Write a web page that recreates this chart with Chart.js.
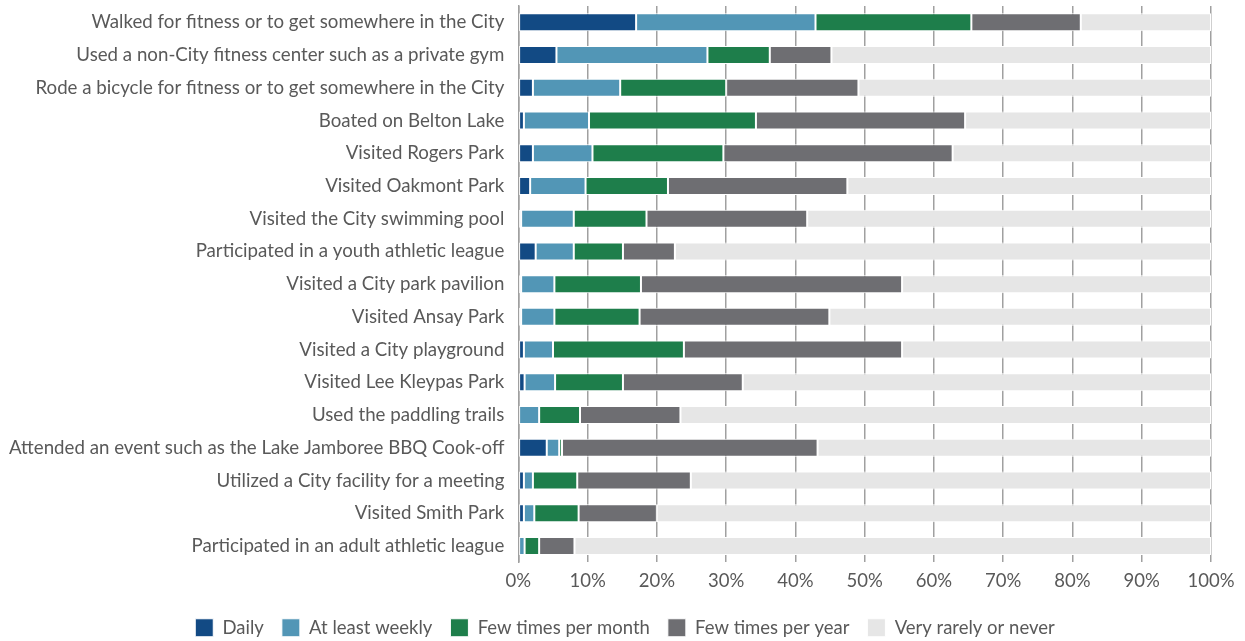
<!DOCTYPE html>
<html>
<head>
<meta charset="utf-8">
<script src="https://cdn.jsdelivr.net/npm/chart.js@4"></script>
<style>
  html, body { margin: 0; padding: 0; background: #fff; }
  #wrap { width: 1245px; height: 641px; }
</style>
</head>
<body>
<div id="wrap"><canvas id="barchart"></canvas></div>
<script>
// activities, top to bottom
const categories = [
  'Walked for fitness or to get somewhere in the City',
  'Used a non-City fitness center such as a private gym',
  'Rode a bicycle for fitness or to get somewhere in the City',
  'Boated on Belton Lake',
  'Visited Rogers Park',
  'Visited Oakmont Park',
  'Visited the City swimming pool',
  'Participated in a youth athletic league',
  'Visited a City park pavilion',
  'Visited Ansay Park',
  'Visited a City playground',
  'Visited Lee Kleypas Park',
  'Used the paddling trails',
  'Attended an event such as the Lake Jamboree BBQ Cook-off',
  'Utilized a City facility for a meeting',
  'Visited Smith Park',
  'Participated in an adult athletic league'
];

// percent of respondents
const daily          = [17.0, 5.5, 2.1, 0.8, 2.1, 1.7, 0.4, 2.5, 0.4, 0.4, 0.8, 0.9, 0.0, 4.1, 0.8, 0.8, 0.0];
const atLeastWeekly  = [25.9, 21.8, 12.6, 9.4, 8.6, 8.0, 7.6, 5.5, 4.8, 4.8, 4.2, 4.4, 3.0, 1.8, 1.3, 1.5, 0.9];
const fewPerMonth    = [22.5, 9.0, 15.3, 24.1, 18.9, 11.9, 10.5, 7.1, 12.5, 12.3, 18.9, 9.8, 5.9, 0.4, 6.4, 6.4, 2.1];
const fewPerYear     = [15.8, 8.9, 19.1, 30.2, 33.1, 25.9, 23.2, 7.5, 37.7, 27.4, 31.5, 17.3, 14.5, 36.9, 16.4, 11.3, 5.1];
const rarelyOrNever  = [18.8, 54.8, 50.9, 35.5, 37.3, 52.5, 58.3, 77.4, 44.6, 55.1, 44.6, 67.6, 76.6, 56.8, 75.1, 80.0, 91.9];

const xTicks = [0, 10, 20, 30, 40, 50, 60, 70, 80, 90, 100];

const FONT = 'Lato';
const TEXT = '#595959';

function ds(label, data, color) {
  return {
    label: label,
    data: data,
    backgroundColor: color,
    borderColor: '#ffffff',
    borderWidth: 1,
    borderSkipped: false,
    categoryPercentage: 0.55,
    barPercentage: 1.0
  };
}

// legend sits centred on the page, not on the padded box
const legendShift = {
  id: 'legendShift',
  afterLayout(chart) {
    chart.legend.left += 18;
    chart.legend.right += 18;
  }
};

new Chart(document.getElementById('barchart'), {
  type: 'bar',
  data: {
    labels: categories,
    datasets: [
      ds('Daily', daily, '#124a84'),
      ds('At least weekly', atLeastWeekly, '#5296b6'),
      ds('Few times per month', fewPerMonth, '#1e7e4b'),
      ds('Few times per year', fewPerYear, '#6e6e72'),
      ds('Very rarely or never', rarelyOrNever, '#e6e6e6')
    ]
  },
  options: {
    indexAxis: 'y',
    responsive: true,
    maintainAspectRatio: false,
    animation: false,
    layout: { padding: { left: 3, right: 34, top: 6, bottom: -6 } },
    scales: {
      x: {
        stacked: true,
        min: 0,
        max: 100,
        afterBuildTicks: function(scale) {
          scale.ticks = xTicks.map(v => ({ value: v }));
        },
        grid: { color: '#a0a0a0', lineWidth: 1.5, drawTicks: false },
        border: { display: false },
        ticks: {
          padding: 8,
          color: TEXT,
          font: { family: FONT, size: 18.5 },
          callback: v => v + '%'
        }
      },
      y: {
        stacked: true,
        grid: { display: false },
        border: { display: true, color: '#a0a0a0', width: 1.5 },
        ticks: {
          padding: 6,
          color: TEXT,
          font: { family: FONT, size: 18.7 }
        },
        // let the plot reach the top edge like the original
        afterFit: function(scale) {
          scale.paddingTop = 0;
          scale.paddingBottom = 0;
        }
      }
    },
    plugins: {
      legend: {
        position: 'bottom',
        labels: {
          boxWidth: 18,
          boxHeight: 18,
          padding: 18,
          color: TEXT,
          font: { family: FONT, size: 18.5 }
        }
      },
      tooltip: { enabled: false }
    }
  },
  plugins: [legendShift]
});
</script>
</body>
</html>
